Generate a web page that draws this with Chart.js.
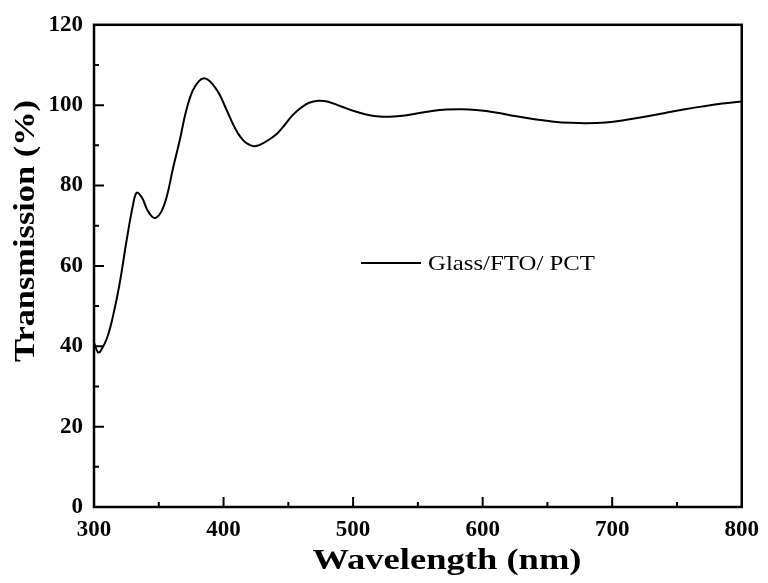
<!DOCTYPE html>
<html>
<head>
<meta charset="utf-8">
<script src="https://cdn.jsdelivr.net/npm/chart.js@4"></script>
<style>
  html, body { margin: 0; padding: 0; background: #fff; }
  #wrap { width: 768px; height: 583px; }
</style>
</head>
<body>
<div id="wrap"><canvas id="chart" width="768" height="583"></canvas></div>
<script>
// wavelength (nm) and transmission (%)
const wavelength = [300, 303, 305, 310, 315, 320, 325, 330, 333, 337, 341, 345, 348, 352, 356, 361, 366, 371, 376, 381, 385, 389, 393, 397, 401, 405, 409, 413, 417, 421, 424, 428, 435, 441, 447, 453, 460, 466, 473, 480, 490, 500, 510, 520, 528, 540, 550, 560, 572, 584, 595, 610, 625, 640, 655, 668, 680, 695, 710, 725, 740, 755, 770, 785, 800];
const transmission = [41, 38.5, 38.8, 42, 48, 56, 66, 75, 78.2, 77, 74, 72.2, 72, 73.5, 77, 84.3, 91, 98.4, 103.5, 106, 106.7, 106.1, 104.6, 102.6, 99.8, 96.9, 94.2, 92.1, 90.7, 90.0, 89.8, 90.1, 91.4, 92.8, 95.0, 97.4, 99.4, 100.6, 101.1, 100.9, 99.8, 98.6, 97.7, 97.2, 97.1, 97.4, 98, 98.5, 98.9, 99, 98.8, 98.2, 97.3, 96.5, 95.9, 95.6, 95.5, 95.7, 96.3, 97.1, 98, 98.9, 99.7, 100.4, 100.9];
const seriesLabel = 'Glass/FTO/ PCT';
const xTitle = 'Wavelength (nm)';
const yTitle = 'Transmission (%)';

const points = wavelength.map((w, i) => ({ x: w, y: transmission[i] }));

// text drawn a bit wider than the font, like the original figure
function wideText(ctx, text, x, y, width) {
  const w = ctx.measureText(text).width;
  ctx.save();
  ctx.translate(x, y);
  ctx.scale(width / w, 1);
  ctx.fillText(text, 0, 0);
  ctx.restore();
}

// inward ticks, box frame, axis titles and the legend inside the plot
const framePlugin = {
  id: 'frame',
  afterDraw(chart) {
    const ctx = chart.ctx;
    const a = chart.chartArea;
    const xs = chart.scales.x, ys = chart.scales.y;
    ctx.save();
    ctx.strokeStyle = '#000';
    ctx.lineWidth = 2.5;
    ctx.strokeRect(a.left, a.top, a.right - a.left, a.bottom - a.top);

    ctx.lineWidth = 2;
    ctx.beginPath();
    for (let v = 350; v < 800; v += 50) {
      const px = xs.getPixelForValue(v);
      const len = v % 100 === 0 ? 10 : 5;
      ctx.moveTo(px, a.bottom);
      ctx.lineTo(px, a.bottom - len);
    }
    for (let v = 10; v < 120; v += 10) {
      const py = ys.getPixelForValue(v);
      const len = v % 20 === 0 ? 10 : 5;
      ctx.moveTo(a.left, py);
      ctx.lineTo(a.left + len, py);
    }
    ctx.stroke();

    // axis titles
    ctx.fillStyle = '#000';
    ctx.font = 'bold 30px "Liberation Serif", serif';
    ctx.textAlign = 'center';
    ctx.textBaseline = 'middle';
    wideText(ctx, xTitle, 447, 561, 269);
    ctx.save();
    ctx.translate(26, 231);
    ctx.rotate(-Math.PI / 2);
    wideText(ctx, yTitle, 0, 0, 262);
    ctx.restore();

    // legend
    const ly = ys.getPixelForValue(60.7);
    ctx.lineWidth = 2;
    ctx.beginPath();
    ctx.moveTo(361, ly);
    ctx.lineTo(421, ly);
    ctx.stroke();
    ctx.font = '22px "Liberation Serif", serif';
    ctx.textAlign = 'left';
    wideText(ctx, chart.data.datasets[0].label, 428, ly + 1, 167);
    ctx.restore();
  }
};

new Chart(document.getElementById('chart'), {
  type: 'line',
  data: {
    datasets: [{
      label: seriesLabel,
      data: points,
      borderColor: '#000',
      borderWidth: 2,
      pointRadius: 0,
      fill: false,
      tension: 0.4
    }]
  },
  options: {
    responsive: false,
    animation: false,
    layout: { padding: { top: 23, right: 24, left: 0, bottom: 0 } },
    plugins: {
      legend: { display: false },
      tooltip: { enabled: false }
    },
    scales: {
      x: {
        type: 'linear',
        min: 300,
        max: 800,
        ticks: {
          stepSize: 100,
          color: '#000',
          padding: 9,
          maxRotation: 0,
          font: { family: '"Liberation Serif", serif', size: 23, weight: 'bold' }
        },
        grid: { display: false, drawTicks: false },
        border: { display: false },
        afterFit(scale) { scale.height = 76; }
      },
      y: {
        min: 0,
        max: 120,
        ticks: {
          stepSize: 20,
          color: '#000',
          padding: 11,
          font: { family: '"Liberation Serif", serif', size: 23, weight: 'bold' }
        },
        grid: { display: false, drawTicks: false },
        border: { display: false },
        afterFit(scale) { scale.width = 94; }
      }
    }
  },
  plugins: [framePlugin]
});
</script>
</body>
</html>
